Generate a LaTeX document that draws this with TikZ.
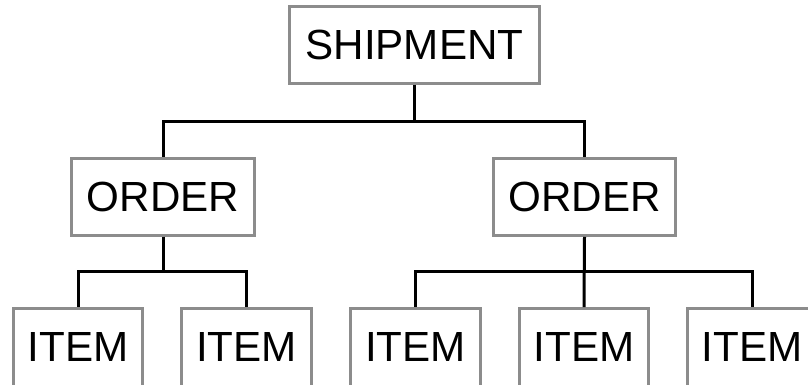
\documentclass[tikz,border=0pt]{standalone}
\usepackage{fontspec}
\setmainfont{Liberation Sans}
\usepackage{tikz}
\definecolor{boxgray}{HTML}{8C8C8C}

\tikzset{
  box/.style={draw=boxgray, line width=0.06cm, fill=white, minimum height=1.54cm,
    inner sep=0pt, font=\fontsize{24}{28}\selectfont},
  itembox/.style={box, minimum width=2.6cm, minimum height=1.98cm, text depth=0.46cm},
  link/.style={draw=black, line width=0.06cm}
}

\begin{document}
\begin{tikzpicture}[x=0.02cm, y=-0.02cm]
  \useasboundingbox (0,0) rectangle (808,385);
  \clip (0,0) rectangle (808,385);
  % top level
  \node[box, minimum width=5cm] (ship) at (414.5,45) {SHIPMENT};
  % orders
  \node[box, minimum width=3.66cm] (ordL) at (163,197) {ORDER};
  \node[box, minimum width=3.64cm] (ordR) at (584.5,197) {ORDER};
  % items (cut off at the bottom edge)
  \node[itembox] (itmA) at (78,358) {ITEM};
  \node[itembox] (itmB) at (246.5,358) {ITEM};
  \node[itembox] (itmC) at (415.5,358) {ITEM};
  \node[itembox] (itmD) at (584,358) {ITEM};
  \node[itembox] (itmE) at (752,358) {ITEM};

  \draw[link] (ship.south) -- ++(0,37) -| (ordL.north);
  \draw[link] (ship.south) -- ++(0,37) -| (ordR.north);
  \draw[link] (ordL.south) -- ++(0,35) -| (itmA.north);
  \draw[link] (ordL.south) -- ++(0,35) -| (itmB.north);
  \draw[link] (ordR.south) -- ++(0,35) -| (itmC.north);
  \draw[link] (ordR.south) -- (itmD.north);
  \draw[link] (ordR.south) -- ++(0,35) -| (itmE.north);
\end{tikzpicture}
\end{document}
